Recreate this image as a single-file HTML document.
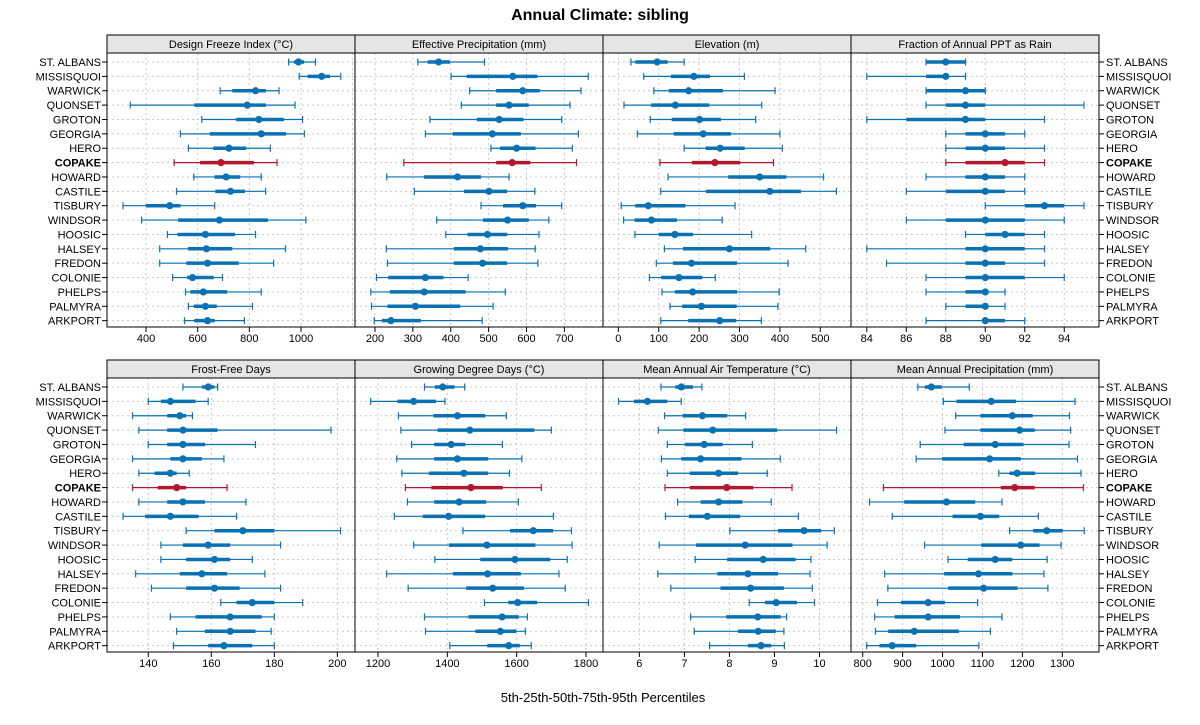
<!DOCTYPE html>
<html><head><meta charset="utf-8"><style>
body{margin:0;background:#fff;font-family:"Liberation Sans",sans-serif;}
svg{display:block}
</style></head><body>
<svg id="chart" width="1200" height="725" xmlns="http://www.w3.org/2000/svg">
<text x="600" y="20" text-anchor="middle" font-size="16" font-weight="bold" font-family="Liberation Sans, sans-serif">Annual Climate: sibling</text>
<text x="603" y="702" text-anchor="middle" font-size="13" font-family="Liberation Sans, sans-serif">5th-25th-50th-75th-95th Percentiles</text>
</svg>
<script>
const soils = ["ST. ALBANS","MISSISQUOI","WARWICK","QUONSET","GROTON","GEORGIA","HERO","COPAKE","HOWARD","CASTILE","TISBURY","WINDSOR","HOOSIC","HALSEY","FREDON","COLONIE","PHELPS","PALMYRA","ARKPORT"];
const panelTitles = ["Design Freeze Index (°C)","Effective Precipitation (mm)","Elevation (m)","Fraction of Annual PPT as Rain","Frost-Free Days","Growing Degree Days (°C)","Mean Annual Air Temperature (°C)","Mean Annual Precipitation (mm)"];
const dfi = [[952,973,990,1012,1056],[993,1025,1080,1112,1154],[687,734,824,864,915],[339,587,792,864,977],[616,749,837,934,1006],[533,647,846,942,1013],[564,660,721,788,881],[509,609,690,818,907],[585,665,710,765,846],[518,668,727,783,863],[311,399,492,534,666],[383,524,684,872,1019],[483,522,630,744,824],[453,563,634,734,940],[453,556,638,759,894],[503,559,580,662,696],[553,572,622,714,846],[564,585,630,674,812],[549,587,638,666,781]];
const effPpt = [[313,339,368,398,489],[401,442,564,629,763],[450,520,590,635,744],[428,520,554,606,715],[345,469,528,592,693],[333,405,510,585,737],[506,530,574,624,721],[276,520,562,610,732],[231,329,418,480,554],[304,435,501,549,622],[480,538,590,625,693],[363,485,550,606,659],[387,444,497,549,633],[230,408,478,551,623],[233,408,484,549,630],[204,235,333,381,446],[189,239,330,439,544],[191,233,307,425,512],[198,218,242,321,483]];
const elev = [[31,42,96,122,163],[63,130,187,227,312],[88,125,174,259,388],[14,81,141,225,355],[79,132,201,254,340],[47,137,210,279,400],[163,216,252,313,406],[103,182,239,302,384],[123,272,350,416,508],[105,217,375,452,540],[7,42,74,166,289],[13,40,82,145,257],[41,100,140,185,330],[114,160,275,376,464],[94,135,181,294,420],[77,106,150,208,240],[108,140,184,294,398],[128,158,206,293,395],[105,173,251,292,354]];
const rainFrac = [[87,87,88,89,89],[84,87,88,88,89],[87,87,89,90,90],[87,88,89,90,95],[84,86,89,90,93],[88,89,90,91,92],[88,89,90,91,93],[88,89,91,92,93],[87,89,90,91,92],[86,88,90,91,92],[90,92,93,94,95],[86,88,90,92,94],[89,90,91,92,93],[84,89,90,92,93],[85,89,90,91,93],[87,89,90,92,94],[87,89,90,90,91],[88,89,90,90,91],[87,90,90,91,92]];
const ffd = [[151,157,159,161,162],[140,144,147,155,159],[135,146,150,152,154],[137,146,151,162,198],[140,146,151,158,174],[135,147,151,157,164],[137,142,147,149,153],[135,143,149,152,165],[137,146,151,158,171],[132,139,147,156,168],[152,161,170,180,201],[144,151,159,166,182],[144,152,161,166,173],[136,150,157,165,177],[141,152,161,169,182],[163,168,173,180,189],[147,155,166,176,180],[149,158,166,174,179],[148,159,164,173,180]];
const gdd = [[1334,1364,1387,1421,1450],[1179,1256,1303,1367,1393],[1259,1360,1429,1509,1570],[1266,1372,1465,1651,1700],[1297,1362,1411,1452,1559],[1254,1362,1429,1518,1615],[1269,1347,1448,1518,1579],[1279,1354,1468,1560,1671],[1285,1362,1434,1512,1605],[1247,1329,1404,1509,1706],[1445,1581,1648,1705,1758],[1303,1405,1514,1654,1760],[1364,1495,1595,1697,1746],[1225,1416,1516,1612,1722],[1287,1454,1531,1621,1740],[1507,1576,1603,1659,1807],[1334,1461,1558,1606,1631],[1337,1481,1553,1599,1625],[1407,1515,1577,1609,1642]];
const maat = [[6.48,6.80,6.93,7.19,7.39],[5.54,5.88,6.18,6.62,6.93],[6.56,6.96,7.40,7.95,8.36],[6.42,6.98,7.63,9.06,10.38],[6.62,7.01,7.44,7.85,8.51],[6.49,6.93,7.36,8.27,9.13],[6.62,7.12,7.76,8.19,8.84],[6.57,7.12,7.94,8.53,9.39],[6.85,7.36,7.76,8.29,8.93],[6.58,7.10,7.51,8.24,9.53],[8.01,9.08,9.66,10.04,10.33],[6.44,7.26,8.35,9.40,10.17],[7.24,7.95,8.75,9.47,9.81],[6.41,7.73,8.41,9.08,9.79],[6.70,7.80,8.47,9.21,9.84],[8.44,8.79,9.04,9.50,9.89],[7.14,7.93,8.63,9.14,9.27],[7.22,8.19,8.64,9.03,9.21],[7.56,8.41,8.70,8.93,9.22]];
const map = [[938,956,972,998,1067],[1002,1035,1122,1184,1332],[1033,1095,1175,1226,1318],[1006,1095,1193,1231,1321],[944,1053,1132,1203,1317],[934,999,1118,1196,1338],[1141,1168,1187,1232,1347],[852,1146,1181,1231,1353],[817,904,1010,1082,1149],[874,1025,1095,1142,1240],[1168,1227,1261,1301,1355],[955,1097,1196,1243,1297],[1014,1063,1132,1175,1262],[855,1004,1090,1175,1254],[863,1014,1103,1188,1264],[837,896,964,1006,1088],[830,880,964,1044,1149],[832,864,929,1041,1120],[810,842,874,934,1091]];
const tickSets = [[400,600,800,1000],[200,300,400,500,600,700],[0,100,200,300,400,500],[84,86,88,90,92,94],[140,160,180,200],[1200,1400,1600,1800],[6,7,8,9,10],[800,900,1000,1100,1200,1300]];
const domains = [[249,1209],[147.2,802],[-38,576],[83.2,95.76],[126.9,205.6],[1133.7,1849],[5.193,10.70],[770.7,1392]];
const gridTicks = [[400,600,800,1000,1200],[200,300,400,500,600,700],[0,100,200,300,400,500],[84,86,88,90,92,94],[140,160,180,200],[1200,1400,1600,1800],[6,7,8,9,10],[800,900,1000,1100,1200,1300]];
const panelData = [dfi,effPpt,elev,rainFrac,ffd,gdd,maat,map];
const highlight = "COPAKE";

const NS="http://www.w3.org/2000/svg";
const svg=document.getElementById('chart');
function mk(tag,attrs,parent){const e=document.createElementNS(NS,tag);for(const k in attrs)e.setAttribute(k,attrs[k]);(parent||svg).appendChild(e);return e;}
const colX=[107,355,603,851,1099];
const rowTop=[53,378];
const plotH=274;
function yPos(r,i){return rowTop[r]+9+i*14.37;}

for(let p=0;p<8;p++){
  const c=p%4, r=Math.floor(p/4);
  const x0=colX[c], x1=colX[c+1], y0=rowTop[r], y1=y0+plotH;
  const dom=domains[p];
  const sx=v=>x0+(v-dom[0])/(dom[1]-dom[0])*(x1-x0);
  const g=mk('g',{});
  
  
  // strip
  const st=mk('rect',{x:x0,y:y0-18,width:x1-x0,height:18,fill:'#e5e5e5',stroke:'#000','stroke-width':1},g);
  
  
  const stt=mk('text',{x:(x0+x1)/2,y:y0-5,'text-anchor':'middle','font-size':11,'font-family':'Liberation Sans, sans-serif'},g);
  stt.textContent=panelTitles[p];
  
  
  // grid
  gridTicks[p].forEach(t=>{const X=sx(t);if(X>x0&&X<x1){const l=mk('line',{x1:X,x2:X,y1:y0,y2:y1,stroke:'#c8c8c8','stroke-dasharray':'2,3'},g);}});
  soils.forEach((s,i)=>{const Y=yPos(r,i);const l=mk('line',{x1:x0,x2:x1,y1:Y,y2:Y,stroke:'#c8c8c8','stroke-dasharray':'2,3'},g);});
  // marks
  panelData[p].forEach((d,i)=>{
    const Y=yPos(r,i);
    const col=soils[i]===highlight?'#b2182b':'#0a72b2';
    const mg=mk('g',{},g);
    
    
    mk('line',{x1:sx(d[0]),x2:sx(d[4]),y1:Y,y2:Y,stroke:col,'stroke-width':1.2},mg);
    mk('line',{x1:sx(d[0]),x2:sx(d[0]),y1:Y-3.5,y2:Y+3.5,stroke:col,'stroke-width':1.2},mg);
    mk('line',{x1:sx(d[4]),x2:sx(d[4]),y1:Y-3.5,y2:Y+3.5,stroke:col,'stroke-width':1.2},mg);
    mk('line',{x1:sx(d[1]),x2:sx(d[3]),y1:Y,y2:Y,stroke:col,'stroke-width':3.5},mg);
    mk('circle',{cx:sx(d[2]),cy:Y,r:3.6,fill:col},mg);
  });
  // frame
  const fr=mk('rect',{x:x0,y:y0,width:x1-x0,height:plotH,fill:'none',stroke:'#000','stroke-width':1},g);
  
  
  // ticks
  tickSets[p].forEach(t=>{const X=sx(t);
    const tl=mk('line',{x1:X,x2:X,y1:y1,y2:y1+5,stroke:'#000'},g);
    
    
    const tx=mk('text',{x:X,y:y1+15,'text-anchor':'middle','font-size':11,'font-family':'Liberation Sans, sans-serif'},g);
    tx.textContent=t;
    
    
  });
}
// row labels
for(let r=0;r<2;r++){
  soils.forEach((s,i)=>{
    const Y=yPos(r,i)+4;
    const bold=s===highlight?'bold':'normal';
    const a=mk('text',{x:101,y:Y,'text-anchor':'end','font-size':11,'font-weight':bold,'font-family':'Liberation Sans, sans-serif'});
    a.textContent=s;
    
    
    const b=mk('text',{x:1106,y:Y,'text-anchor':'start','font-size':11,'font-weight':bold,'font-family':'Liberation Sans, sans-serif'});
    b.textContent=s;
    
    
    [101,1099].forEach(xx=>{const t=mk('line',{x1:xx===101?102:1099,x2:xx===101?107:1104,y1:Y-4,y2:Y-4,stroke:'#000'});});
  });
}
</script>
</body></html>
